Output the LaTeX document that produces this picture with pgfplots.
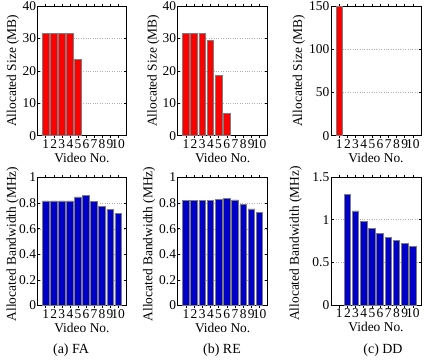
\documentclass[border=0pt]{standalone}
\usepackage{fontspec}
\setmainfont{Liberation Serif}
\usepackage{pgfplots}
\pgfplotsset{compat=1.18}
\definecolor{barred}{RGB}{255,0,0}
\definecolor{barblue}{RGB}{0,0,200}
\definecolor{edgegray}{RGB}{125,125,125}

\pgfplotsset{
  vidbar/.style={
    scale only axis, width=89bp,
    xmin=0, xmax=11, xtick={1,...,10},
    tick align=inside, tick pos=both,
    major tick length=2.5bp,
    ymajorgrids, grid style={dotted, line width=0.4pt, gray!60},
    axis line style={black, line width=0.6pt},
    every tick/.style={black, line width=0.5pt},
    /pgf/number format/assume math mode=true,
    ticklabel style={font=\fontsize{13.5}{15}\selectfont},
    label style={font=\fontsize{13.5}{15}\selectfont},
    xticklabel style={inner sep=1bp},
    yticklabel style={inner sep=1.5bp},
    xlabel={Video No.},
    xlabel style={at={(axis description cs:0.5,0)}, anchor=center, yshift=-22bp},
    ybar, bar width=0.8,
  },
  szbar/.style={vidbar, height=129.6bp, ylabel={Allocated Size (MB)}},
  bwbar/.style={vidbar, height=128bp, ylabel={Allocated Bandwidth (MHz)}},
  redbar/.style={fill=barred, draw=edgegray, line width=0.7pt},
  bluebar/.style={fill=barblue, draw=edgegray, line width=0.7pt},
}

\begin{document}
\begin{tikzpicture}
% (a) FA
\begin{axis}[szbar, at={(37.7bp,-6bp)}, anchor=north west, width=88.5bp,
  ymin=0, ymax=40, ytick={0,10,20,30,40},
  ylabel style={at={(axis description cs:-0.279,0.5)}, anchor=center}]
\addplot[redbar] coordinates {(1,31.6)(2,31.6)(3,31.6)(4,31.6)(5,23.6)};
\end{axis}
\begin{axis}[bwbar, at={(37.7bp,-177.5bp)}, anchor=north west, width=88.5bp,
  ymin=0, ymax=1, ytick={0,0.2,0.4,0.6,0.8,1},
  ylabel style={at={(axis description cs:-0.282,0.48)}, anchor=center}]
\addplot[bluebar] coordinates {(1,0.817)(2,0.817)(3,0.817)(4,0.817)(5,0.848)
  (6,0.861)(7,0.814)(8,0.777)(9,0.749)(10,0.722)};
\end{axis}
% (b) RE
\begin{axis}[szbar, at={(177.7bp,-6bp)}, anchor=north west, width=90bp,
  ymin=0, ymax=40, ytick={0,10,20,30,40},
  ylabel style={at={(axis description cs:-0.271,0.5)}, anchor=center}]
\addplot[redbar] coordinates {(1,31.6)(2,31.6)(3,31.6)(4,29.4)(5,18.6)(6,6.8)};
\end{axis}
\begin{axis}[bwbar, at={(177.7bp,-177.5bp)}, anchor=north west, width=90bp,
  ymin=0, ymax=1, ytick={0,0.2,0.4,0.6,0.8,1},
  ylabel style={at={(axis description cs:-0.316,0.48)}, anchor=center}]
\addplot[bluebar] coordinates {(1,0.819)(2,0.819)(3,0.819)(4,0.819)(5,0.827)
  (6,0.835)(7,0.825)(8,0.788)(9,0.754)(10,0.730)};
\end{axis}
% (c) DD
\begin{axis}[szbar, at={(331bp,-6bp)}, anchor=north west, width=90bp,
  ymin=0, ymax=150, ytick={0,50,100,150},
  ylabel style={at={(axis description cs:-0.356,0.5)}, anchor=center}]
\addplot[redbar] coordinates {(1,150)};
\end{axis}
\begin{axis}[bwbar, at={(331bp,-177bp)}, anchor=north west, width=90bp,
  ymin=0, ymax=1.5, ytick={0,0.5,1,1.5},
  ylabel style={at={(axis description cs:-0.392,0.48)}, anchor=center}]
\addplot[bluebar] coordinates {(2,1.297)(3,1.102)(4,0.982)(5,0.900)(6,0.834)
  (7,0.787)(8,0.752)(9,0.717)(10,0.682)};
\end{axis}
% sub-captions
\node[font=\fontsize{14}{16}\selectfont] at (71bp,-350bp) {(a) FA};
\node[font=\fontsize{14}{16}\selectfont] at (222bp,-350bp) {(b) RE};
\node[font=\fontsize{14}{16}\selectfont] at (383bp,-350bp) {(c) DD};
\pgfresetboundingbox
\path (0,0) rectangle (427bp,-360bp);
\end{tikzpicture}
\end{document}
